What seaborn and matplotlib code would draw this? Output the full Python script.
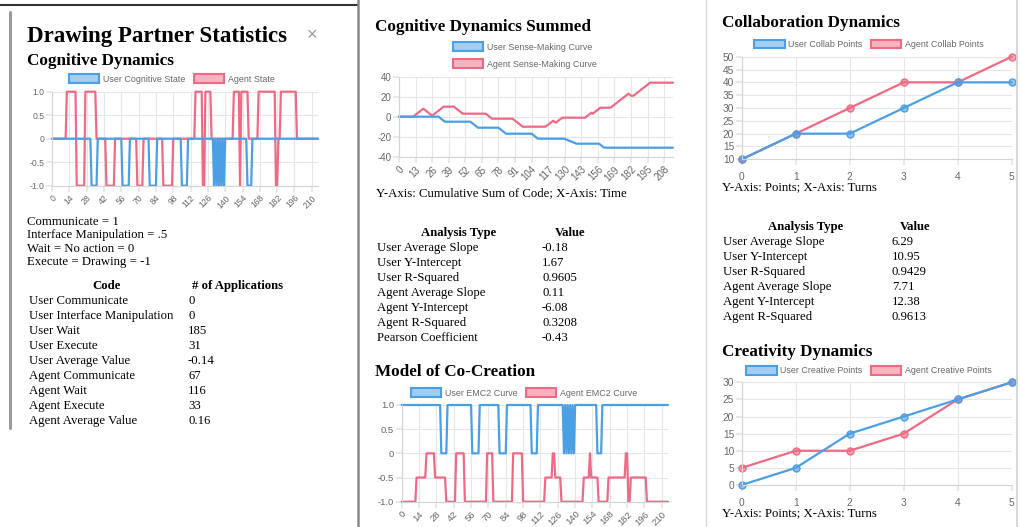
import numpy as np
import pandas as pd
import matplotlib
matplotlib.use("Agg")
import matplotlib.pyplot as plt
from matplotlib.patches import Patch
from matplotlib.lines import Line2D
from matplotlib.colors import to_rgba
import seaborn as sns

# timelines, run-length coded: (code value, number of steps)
user_runs = [(0, 32), (-1, 5), (0, 20), (-1, 6), (0, 16), (-1, 6), (0, 20), (-1, 5), (0, 21),
             (-1, 1), (0, 1), (-1, 1), (0, 1), (-1, 1), (0, 1), (-1, 1), (0, 1), (-1, 1), (0, 1),
             (0, 17), (-1, 4), (0, 54)]
agent_runs = [(0, 12), (1, 8), (-1, 7), (1, 9), (0, 8), (-1, 7), (0, 18), (-1, 5), (0, 16),
              (-1, 8), (0, 18), (1, 6), (-1, 2), (1, 5), (0, 18), (1, 5), (-1, 1), (1, 6),
              (0, 8), (1, 14), (-1, 2), (0, 2), (1, 13), (0, 18)]

# EMC2 levels per code
emc2_user_levels = {0: 1.0, -1: 0.0}
emc2_agent_levels = {0: -1.0, 1: -0.5, -1: 0.0}

turns = [0, 1, 2, 3, 4, 5]
user_collab = [10, 20, 20, 30, 40, 40]
agent_collab = [10, 20, 30, 40, 40, 50]
user_creative = [0, 5, 15, 20, 25, 30]
agent_creative = [5, 10, 10, 15, 25, 30]

code_legend = ["Communicate = 1", "Interface Manipulation = .5",
               "Wait = No action = 0", "Execute = Drawing = -1"]
code_rows = [("User Communicate", "0"), ("User Interface Manipulation", "0"),
             ("User Wait", "185"), ("User Execute", "31"), ("User Average Value", "-0.14"),
             ("Agent Communicate", "67"), ("Agent Wait", "116"), ("Agent Execute", "33"),
             ("Agent Average Value", "0.16")]
summed_rows = [("User Average Slope", "-0.18"), ("User Y-Intercept", "1.67"),
               ("User R-Squared", "0.9605"), ("Agent Average Slope", "0.11"),
               ("Agent Y-Intercept", "-6.08"), ("Agent R-Squared", "0.3208"),
               ("Pearson Coefficient", "-0.43")]
collab_rows = [("User Average Slope", "6.29"), ("User Y-Intercept", "10.95"),
               ("User R-Squared", "0.9429"), ("Agent Average Slope", "7.71"),
               ("Agent Y-Intercept", "12.38"), ("Agent R-Squared", "0.9613")]

user_code = np.repeat([v for v, n in user_runs], [n for v, n in user_runs])
agent_code = np.repeat([v for v, n in agent_runs], [n for v, n in agent_runs])
steps = np.arange(len(user_code))

BLUE = "#4b9fe4"
RED = "#f06a83"
GRID = "#e6e6e6"
TICK = "#666666"
SERIF = "Liberation Serif"
SANS = "Liberation Sans"

sns.set_theme(style="white")
plt.rcParams["font.family"] = [SANS, "DejaVu Sans"]
plt.rcParams["axes.unicode_minus"] = False

W, H = 1021, 527
fig = plt.figure(figsize=(W / 100, H / 100), dpi=100)
fig.patch.set_facecolor("white")


def px_axes(x0, y0, x1, y1):
    return fig.add_axes([x0 / W, 1 - y1 / H, (x1 - x0) / W, (y1 - y0) / H])


def long_frame(x, user, agent):
    return pd.DataFrame({"x": np.concatenate([x, x]),
                         "v": np.concatenate([user, agent]),
                         "who": ["User"] * len(x) + ["Agent"] * len(x)})


def draw_series(ax, df, markers=False):
    for who, col in [("Agent", RED), ("User", BLUE)]:
        sub = df[df.who == who]
        kw = {}
        if markers:
            kw = dict(marker="o", markersize=5, markerfacecolor=to_rgba(col, 0.6),
                      markeredgecolor=col, markeredgewidth=1)
        sns.lineplot(data=sub, x="x", y="v", color=col, linewidth=1.6, ax=ax,
                     estimator=None, sort=False, **kw)
    for ln in ax.lines:
        ln.set_clip_on(False)


def style(ax, xlim, ylim, xticks, yticks, ylabels=None, rotate=True, size=6.5):
    ax.set_xlim(*xlim)
    ax.set_ylim(*ylim)
    ax.set_xticks(xticks)
    ax.set_yticks(yticks)
    if ylabels is not None:
        ax.set_yticklabels(ylabels)
    ax.set_xlabel("")
    ax.set_ylabel("")
    ax.grid(True, color=GRID, linewidth=0.8)
    ax.set_axisbelow(True)
    for side, sp in ax.spines.items():
        sp.set_visible(side in ("left", "bottom"))
        sp.set_color("#d4d4d4")
        sp.set_linewidth(0.8)
    ax.tick_params(axis="both", length=4, color=GRID, labelsize=size, labelcolor=TICK, pad=1.5,
                   left=True, bottom=True)
    if rotate:
        for lab in ax.get_xticklabels():
            lab.set_rotation(45)
            lab.set_ha("right")
            lab.set_rotation_mode("anchor")
    else:
        ax.tick_params(axis="x", pad=5)


def legend(ax, labels, cx, cy, ncol=2):
    handles = [Patch(facecolor=to_rgba(c, 0.5), edgecolor=c, linewidth=1.5, label=l)
               for l, c in zip(labels, [BLUE, RED])]
    ax.legend(handles=handles, loc="center", bbox_to_anchor=(cx / W, 1 - cy / H),
              bbox_transform=fig.transFigure, ncol=ncol, frameon=False, fontsize=6.4,
              handlelength=3.4, handleheight=1.1, handletextpad=0.45, columnspacing=0.9,
              labelcolor=TICK, borderpad=0, labelspacing=0.85)


def text(x, y, s, size=9.2, weight="normal", ha="left", color="black", family=SERIF):
    fig.text(x / W, 1 - y / H, s, fontsize=size, fontweight=weight, ha=ha, va="baseline",
             color=color, family=family)


def table(x_left, x_val, c1, c2, head_y, rows, h1, h2):
    text(c1, head_y, h1, weight="bold", ha="center")
    text(c2, head_y, h2, weight="bold", ha="center")
    for i, (name, val) in enumerate(rows):
        text(x_left, head_y + 15 * (i + 1), name)
        text(x_val, head_y + 15 * (i + 1), val)


def vline(x, y0, y1, color, lw):
    fig.add_artist(Line2D([x / W, x / W], [1 - y0 / H, 1 - y1 / H], color=color, lw=lw,
                          transform=fig.transFigure))


# page frame
fig.add_artist(Line2D([0, 358 / W], [1 - 5 / H, 1 - 5 / H], color="#333333", lw=1.5,
                      transform=fig.transFigure))
vline(10, 12, 428, "#9a9a9a", 2.2)
vline(357.5, 0, H, "#8a8a8a", 1.8)
vline(706, 0, H, "#d8d8d8", 1.0)
vline(1017, 0, H, "#d0d0d0", 1.2)

pm_ticks = [-1, -0.5, 0, 0.5, 1]
pm_labels = ["-1.0", "-0.5", "0", "0.5", "1.0"]

# ---- panel 1: Cognitive Dynamics
text(27, 42, "Drawing Partner Statistics", size=16.5, weight="bold")
text(312, 40, "\u00d7", size=13, color="#9a9a9a", ha="center", family=SANS)
text(27, 65, "Cognitive Dynamics", size=12.3, weight="bold")

ax1 = px_axes(52, 91.7, 318, 185.7)
draw_series(ax1, long_frame(steps, user_code, agent_code))
style(ax1, (0, 215), (-1, 1), range(0, 211, 14), pm_ticks, pm_labels, size=6.2)
legend(ax1, ["User Cognitive State", "Agent State"], 172, 79)

for i, line in enumerate(code_legend):
    text(27, 225 + 13.3 * i, line)
table(29, 188, 107, 237, 289, code_rows, "Code", "# of Applications")

# ---- panel 2: Cognitive Dynamics Summed / Model of Co-Creation
text(375, 31, "Cognitive Dynamics Summed", size=12.3, weight="bold")
ax2 = px_axes(399, 76.7, 673, 156.7)
draw_series(ax2, long_frame(steps, np.cumsum(user_code), np.cumsum(agent_code)))
style(ax2, (0, 215), (-40, 40), range(0, 209, 13), [-40, -20, 0, 20, 40], size=7)
legend(ax2, ["User Sense-Making Curve", "Agent Sense-Making Curve"], 525, 55.5, ncol=1)
text(376, 196, "Y-Axis: Cumulative Sum of Code; X-Axis: Time")

table(377, 542, 459, 570, 235.7, summed_rows, "Analysis Type", "Value")

text(375, 376, "Model of Co-Creation", size=12.3, weight="bold")
ax3 = px_axes(401.7, 405, 668, 501.7)
emc2_user = [emc2_user_levels[v] for v in user_code]
emc2_agent = [emc2_agent_levels[v] for v in agent_code]
draw_series(ax3, long_frame(steps, emc2_user, emc2_agent))
style(ax3, (0, 215), (-1, 1), range(0, 211, 14), pm_ticks, pm_labels, size=6.8)
legend(ax3, ["User EMC2 Curve", "Agent EMC2 Curve"], 524, 393)

# ---- panel 3: Collaboration / Creativity Dynamics
text(722, 27, "Collaboration Dynamics", size=12.3, weight="bold")
ax4 = px_axes(741.7, 56.7, 1011.7, 159.3)
draw_series(ax4, long_frame(turns, user_collab, agent_collab), markers=True)
style(ax4, (0, 5), (10, 50), turns, range(10, 51, 5), rotate=False, size=7.3)
legend(ax4, ["User Collab Points", "Agent Collab Points"], 869, 44.5)
text(722, 190.5, "Y-Axis: Points; X-Axis: Turns")

table(723, 892, 806, 915, 230, collab_rows, "Analysis Type", "Value")

text(722, 356, "Creativity Dynamics", size=12.3, weight="bold")
ax5 = px_axes(741.7, 382.3, 1011.7, 485)
draw_series(ax5, long_frame(turns, user_creative, agent_creative), markers=True)
style(ax5, (0, 5), (0, 30), turns, range(0, 31, 5), rotate=False, size=7.3)
legend(ax5, ["User Creative Points", "Agent Creative Points"], 869, 370.7)
text(722, 516.5, "Y-Axis: Points; X-Axis: Turns")

fig.savefig("out.png", dpi=100, facecolor="white")
